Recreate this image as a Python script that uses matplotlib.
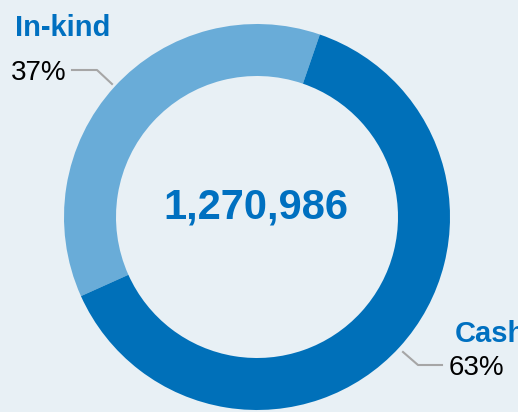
import matplotlib.pyplot as plt

labels = ["In-kind", "Cash"]
values = [37, 63]
total_text = "1,270,986"
colors = ["#69acd8", "#0070b9"]

bg = "#e8f0f5"
blue = "#0070c0"
gray = "#a6a6a6"
H = 412

fig = plt.figure(figsize=(5.18, 4.12), dpi=100, facecolor=bg)
ax = fig.add_axes([0, 0, 1, 1])
ax.set_facecolor(bg)
ax.set_xlim(0, 518)
ax.set_ylim(0, H)
ax.set_aspect("equal")
ax.axis("off")

# donut
ax.pie(values, colors=colors, startangle=71, counterclock=True,
       center=(257, H - 217), radius=193,
       wedgeprops=dict(width=52, edgecolor="none"))
ax.set_xlim(0, 518)
ax.set_ylim(0, H)

font = ["Liberation Sans", "DejaVu Sans"]

# centre total
ax.text(256, H - 207, total_text, ha="center", va="center", fontsize=30,
        fontweight="bold", color=blue, family=font)

# In-kind label
ax.text(15, H - 36, labels[0], ha="left", va="baseline", fontsize=21,
        fontweight="bold", color=blue, family=font)
ax.text(11, H - 80, f"{values[0]}%", ha="left", va="baseline", fontsize=20,
        color="black", family=font)
ax.plot([72, 97, 112], [H - 70, H - 70, H - 84], color=gray, lw=1.5)

# Cash label
ax.text(455, H - 342, labels[1], ha="left", va="baseline", fontsize=21,
        fontweight="bold", color=blue, family=font)
ax.text(449, H - 375, f"{values[1]}%", ha="left", va="baseline", fontsize=20,
        color="black", family=font)
ax.plot([403, 418, 442], [H - 352, H - 365, H - 365], color=gray, lw=1.5)

fig.savefig("out.png", dpi=100, facecolor=bg)
